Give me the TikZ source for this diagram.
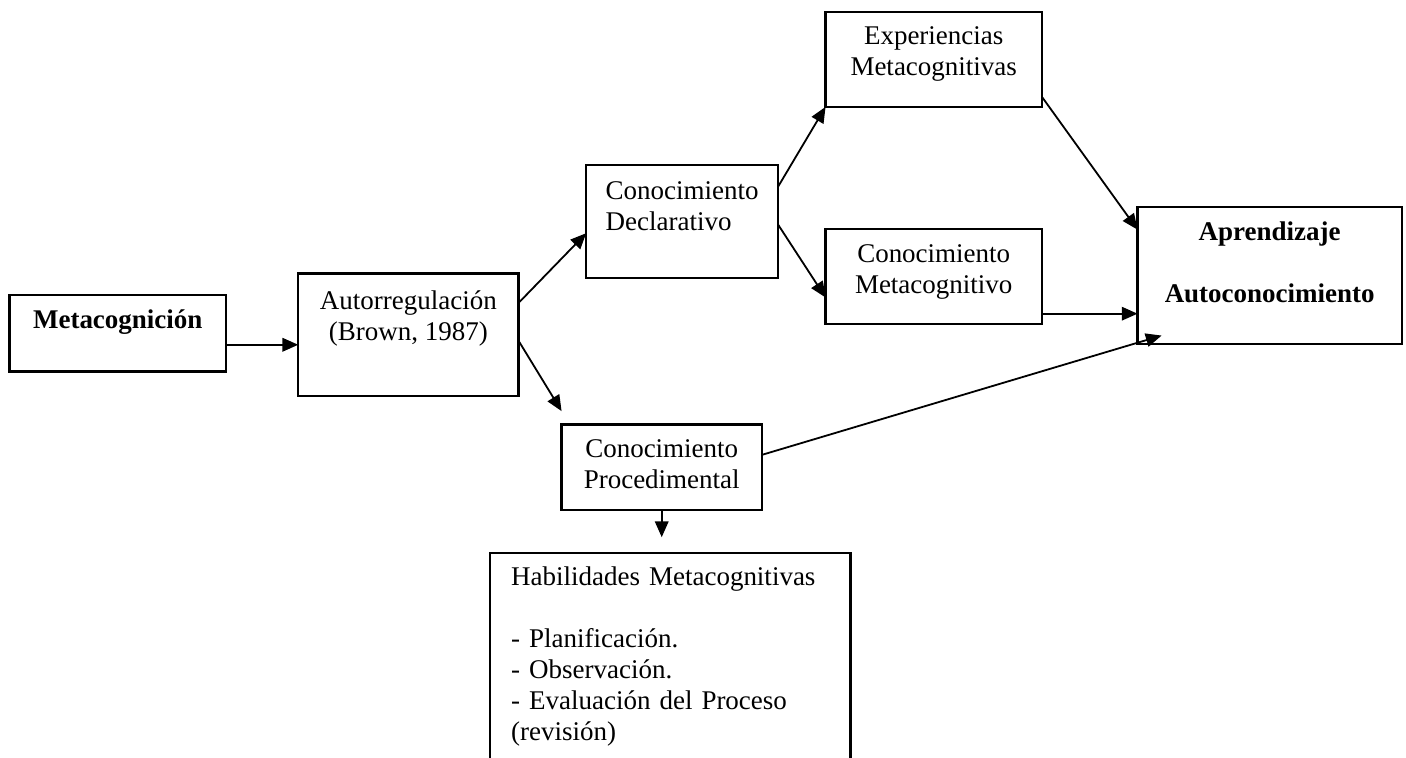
\documentclass[tikz,border=0pt]{standalone}
\usepackage{fontspec}
\setmainfont{Liberation Serif}
\usetikzlibrary{arrows.meta}

\tikzset{
  box/.style={draw, line width=1pt, outer sep=0pt, inner sep=0pt, align=center},
  flow/.style={-{Triangle[length=7pt,width=6pt]}, line width=0.8pt}
}

\begin{document}
\begin{tikzpicture}[font=\fontsize{12}{13.8}\selectfont]
    \clip (0,0) rectangle (21.97,11.84);
    \node [box, minimum width=3.38cm, minimum height=1.19cm] (metacog) at (1.84,6.63) {\raisebox{5pt}[\height][\depth]{\textbf{Metacognición}}};
    \node [box, minimum width=3.44cm, minimum height=1.91cm] (autorreg) at (6.38,6.61) {\raisebox{7pt}[\height][\depth]{\begin{tabular}{@{}c@{}}Autorregulación\\(Brown, 1987)\end{tabular}}};
    \node [box, minimum width=3.0cm, minimum height=1.77cm] (decl) at (10.66,8.38) {\raisebox{5.5pt}[\height][\depth]{\begin{tabular}{@{}l@{}}Conocimiento\\Declarativo\end{tabular}}};
    \node [box, minimum width=3.38cm, minimum height=1.48cm] (expmeta) at (14.59,10.91) {\raisebox{2.4pt}[\height][\depth]{\begin{tabular}{@{}c@{}}Experiencias\\Metacognitivas\end{tabular}}};
    \node [box, minimum width=3.38cm, minimum height=1.48cm] (conmeta) at (14.59,7.52) {\raisebox{2.2pt}[\height][\depth]{\begin{tabular}{@{}c@{}}Conocimiento\\Metacognitivo\end{tabular}}};
    \node [box, minimum width=4.13cm, minimum height=2.14cm] (aprend) at (19.84,7.54) {\raisebox{4.2pt}[\height][\depth]{\begin{tabular}{@{}c@{}}\textbf{Aprendizaje}\\ \\\textbf{Autoconocimiento}\end{tabular}}};
    \node [box, minimum width=3.13cm, minimum height=1.33cm] (proced) at (10.34,4.54) {\begin{tabular}{@{}c@{}}Conocimiento\\Procedimental\end{tabular}};
    \node [box, anchor=north west, minimum width=5.63cm, minimum height=3.86cm, text width=141.6pt, inner xsep=9.3pt, align=left] (habil) at (7.66,3.20) {\raisebox{8.9pt}[\height][\depth]{\begin{tabular}{@{}l@{}}Habilidades Metacognitivas\\ \\- Planificación.\\- Observación.\\- Evaluación del Proceso\\(revisión)\end{tabular}}};

    \draw [flow] (metacog.-6) -- (metacog.-6 -| autorreg.west);
    \draw [flow] (autorreg.16) -- (decl.187);
    \draw [flow] (autorreg.-3) -- ([yshift=6pt]proced.north west);
    \draw [flow] (decl.20) -- (expmeta.south west);
    \draw [flow] (decl.-2) -- (conmeta.191);
    \draw [flow] (expmeta.-19) -- (aprend.161);
    \draw [flow] (conmeta.-19) -- (conmeta.-19 -| aprend.west);
    \draw [flow] (proced.7) -- ([xshift=10.7pt,yshift=3.6pt]aprend.south west);
    \draw [flow] (proced.south) -- ([yshift=7pt]proced.south |- habil.north);
\end{tikzpicture}
\end{document}
